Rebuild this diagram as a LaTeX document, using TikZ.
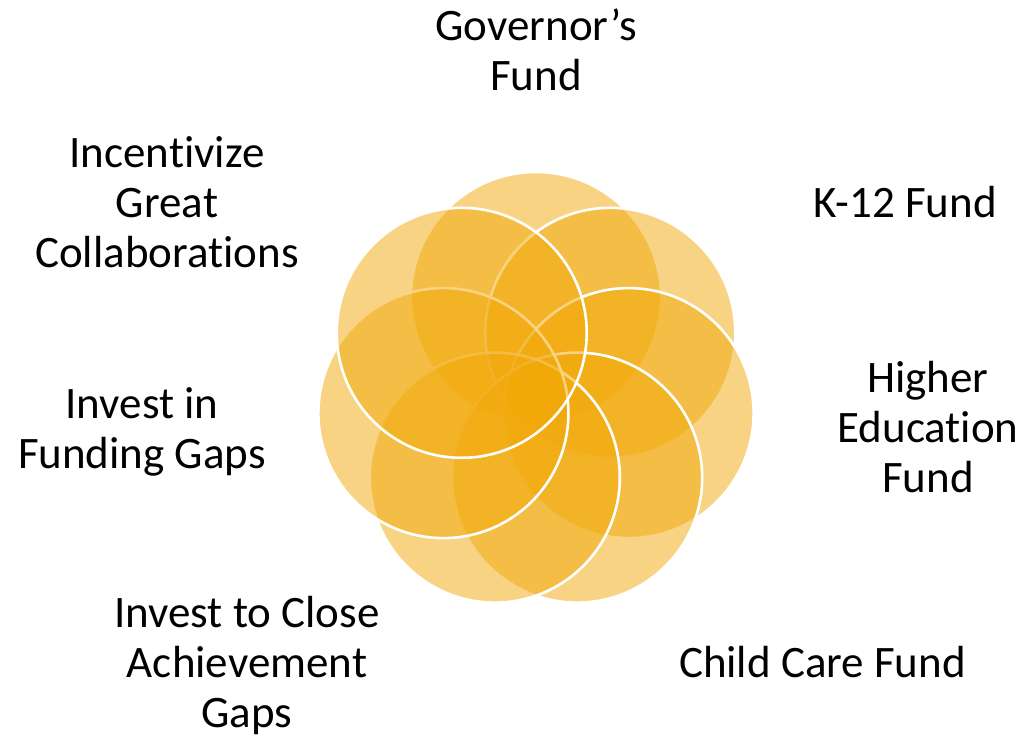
\documentclass[tikz,border=0pt]{standalone}
\usepackage{fontspec}
\setmainfont{Carlito}[Ligatures={NoCommon}]
\definecolor{gold}{RGB}{241,168,8}
\tikzset{
  petal/.style={circle, minimum size=250pt, inner sep=0pt, fill=gold, fill opacity=0.5, draw=white, line width=2.6pt},
  lab/.style={align=center, anchor=base, inner sep=0pt, font=\fontsize{45}{50}\selectfont, text=black}
}
\begin{document}
\begin{tikzpicture}[x=1pt,y=-1pt]
\useasboundingbox (0,0) rectangle (1025,739);
\node[petal] (c1) at (536.0,297.0) {};
\node[petal] (c2) at (610.3,332.8) {};
\node[petal] (c3) at (628.6,413.1) {};
\node[petal] (c4) at (577.2,477.6) {};
\node[petal] (c5) at (494.8,477.6) {};
\node[petal] (c6) at (443.4,413.1) {};
\node[petal] (c7) at (461.7,332.8) {};
\node[lab] (l1) at (536,90) {Governor’s\\Fund};
\node[lab] (l2) at (905,217) {K-12 Fund};
\node[lab] (l3) at (928,492) {Higher\\Education\\Fund};
\node[lab] (l4) at (822.5,677) {Child Care Fund};
\node[lab] (l5) at (247,727) {Invest to Close\\Achievement\\Gaps};
\node[lab] (l6) at (142,468) {Invest in\\Funding Gaps};
\node[lab] (l7) at (167,267) {Incentivize\\Great\\Collaborations};
\end{tikzpicture}
\end{document}
